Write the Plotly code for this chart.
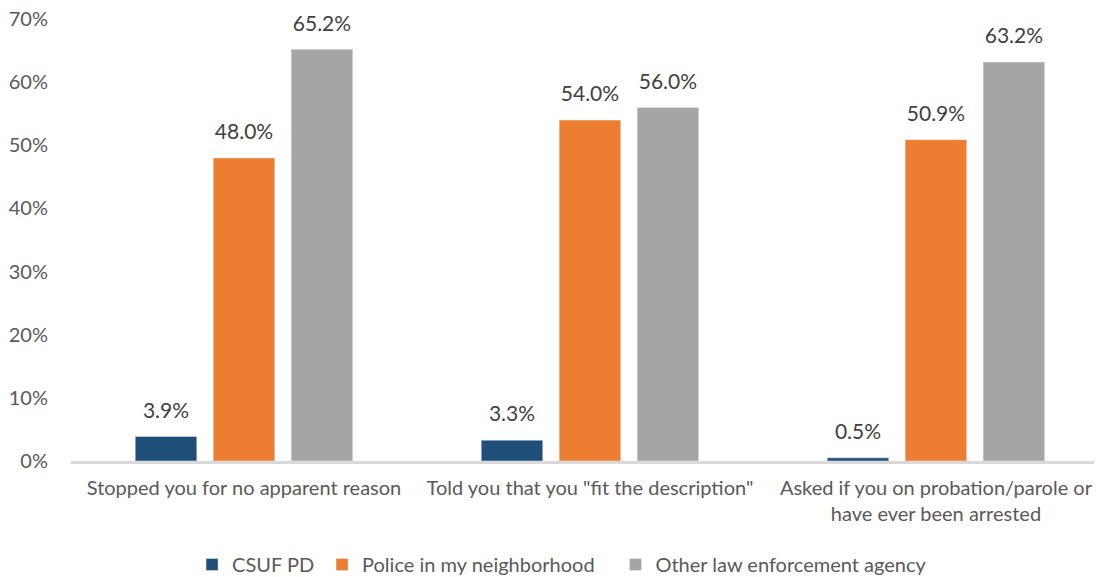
import plotly.graph_objects as go

categories = ["Stopped you for no apparent reason",
              "Told you that you \"fit the description\"",
              "Asked if you on probation/parole or<br>have ever been arrested"]
series_names = ["CSUF PD", "Police in my neighborhood", "Other law enforcement agency"]
csuf_pd = [3.9, 3.3, 0.5]
neighborhood = [48.0, 54.0, 50.9]
other_agency = [65.2, 56.0, 63.2]
colors = ["#1F4E79", "#ED7D31", "#A5A5A5"]
y_ticks = [0, 10, 20, 30, 40, 50, 60, 70]
y_tick_labels = [f"{v}%" for v in y_ticks]

FONT = "Lato, 'Open Sans', sans-serif"
BARGAP = 0.324
legend_ids = ["legend", "legend2", "legend3"]
legend_x = [0.1174, 0.2435, 0.5281]

fig = go.Figure()
for i, (name, vals, col) in enumerate(zip(series_names, [csuf_pd, neighborhood, other_agency], colors)):
    fig.add_trace(go.Bar(
        name=name, x=categories, y=vals, marker_color=col,
        offsetgroup=str(i), hoverinfo="skip", legend=legend_ids[i],
    ))
for i, vals in enumerate([csuf_pd, neighborhood, other_agency]):
    fig.add_trace(go.Scatter(
        x=categories, y=vals, mode="markers+text", offsetgroup=str(i),
        marker=dict(size=20, opacity=0, color="white"),
        text=[f"{v:.1f}%" for v in vals], textposition="top center",
        textfont=dict(size=21, color="#404040", family=FONT),
        showlegend=False, cliponaxis=False, hoverinfo="skip",
    ))

legend_common = dict(orientation="h", xanchor="left", y=-0.1901, yanchor="top",
                     font=dict(size=20, color="#595959"), itemwidth=30,
                     bgcolor="rgba(0,0,0,0)")

fig.update_layout(
    width=1094, height=569,
    barmode="group", bargap=BARGAP, bargroupgap=0.21,
    scattermode="group", scattergap=BARGAP,
    paper_bgcolor="white", plot_bgcolor="white",
    margin=dict(l=63, r=0, t=11, b=116, autoexpand=False),
    font=dict(family=FONT, color="#595959"),
    showlegend=True,
    legend=dict(x=legend_x[0], **legend_common),
    legend2=dict(x=legend_x[1], **legend_common),
    legend3=dict(x=legend_x[2], **legend_common),
    xaxis=dict(showline=True, linecolor="#D9D9D9", linewidth=3, ticks="",
               range=[-0.5, 2.48], ticklabelstandoff=7,
               tickfont=dict(size=20, color="#595959"), showgrid=False,
               automargin=False),
    yaxis=dict(range=[0, 70.01], tickvals=y_ticks, ticktext=y_tick_labels,
               showgrid=False, zeroline=False, showline=False, automargin=False,
               ticklabeloverflow="allow",
               tickfont=dict(size=20, color="#595959"), ticklabelstandoff=22),
)
fig.write_html("out.html")
